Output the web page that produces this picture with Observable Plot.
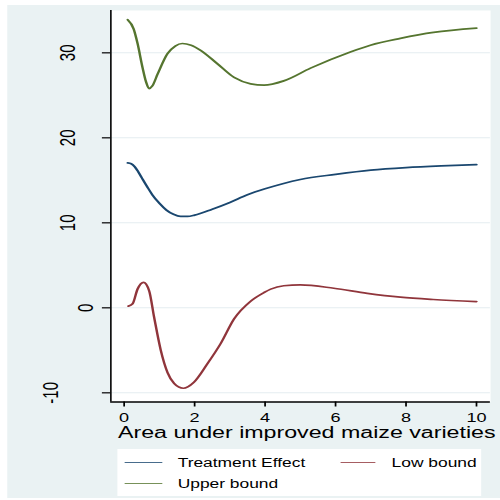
<!DOCTYPE html>
<html><head><meta charset="utf-8">
<script src="https://cdn.jsdelivr.net/npm/d3@7"></script>
<script src="https://cdn.jsdelivr.net/npm/@observablehq/plot@0.6"></script>
<style>
html,body{margin:0;padding:0;background:#fff;}
#wrap{position:absolute;left:0;top:0;width:345px;height:500px;transform:scaleX(1.4493);transform-origin:0 0;font-family:"Liberation Sans",Arial,sans-serif;}
#bg{position:absolute;left:4.83px;top:5px;width:340.2px;height:493px;background:#eaf2f3;}
#chart{position:absolute;left:0;top:0;}
#xtitle{position:absolute;left:81.4px;top:425.5px;font-size:16px;line-height:14px;white-space:nowrap;color:#000;}
#legend{position:absolute;left:80.9px;top:449px;width:251px;height:47px;background:#fff;}
#legend .s{position:absolute;height:1.4px;}
#legend .t{position:absolute;font-size:12px;line-height:12px;white-space:nowrap;color:#000;}
</style></head>
<body>
<div id="wrap">
  <div id="bg"></div>
  <div id="chart"></div>
  <div id="xtitle"></div>
  <div id="legend"></div>
</div>
<script>
// Data
const seriesNames = ["Treatment Effect", "Low bound", "Upper bound"];
const seriesColors = ["#1a476f", "#90353b", "#55752f"];

const teX = [0.1,0.2,0.3,0.4,0.5,0.66,0.8,1.0,1.2,1.4,1.6,1.8,2.0,2.5,3.0,3.5,4.0,4.5,5.0,6.0,7.0,8.0,9.0,10.0];
const teY = [17.05,16.95,16.6,16.0,15.3,14.2,13.3,12.3,11.5,11.0,10.75,10.75,10.9,11.6,12.4,13.3,14.0,14.6,15.1,15.7,16.2,16.5,16.7,16.85];

const lbX = [0.12,0.24,0.38,0.55,0.71,0.85,1.04,1.23,1.42,1.68,1.98,2.36,2.74,3.12,3.59,3.97,4.16,4.53,5.0,5.95,6.9,7.84,8.77,10.0];
const lbY = [0.2,0.47,2.2,3.0,2.0,-1.1,-5.0,-7.6,-8.9,-9.46,-8.75,-6.6,-4.2,-1.3,0.78,1.8,2.2,2.6,2.7,2.3,1.7,1.25,0.98,0.74];

const ubX = [0.1,0.27,0.38,0.52,0.62,0.71,0.8,0.95,1.23,1.45,1.65,1.9,2.17,2.65,3.12,3.59,3.97,4.53,5.29,6.42,6.99,7.84,8.78,10.0];
const ubY = [33.9,32.8,31.1,28.3,26.6,25.8,26.1,27.5,29.9,30.8,31.1,30.9,30.3,28.7,27.1,26.35,26.2,26.7,28.2,30.1,30.9,31.7,32.4,32.9];

const xTicks = [0,2,4,6,8,10];
const yTicks = [-10,0,10,20,30];
const xDomain = [-0.377, 10.40];
const yDomain = [-11.08, 34.98];
const xTitle = "Area under improved maize varieties";

const toRows = (xs, ys) => xs.map((x, i) => ({x, y: ys[i]}));
const te = toRows(teX, teY), lb = toRows(lbX, lbY), ub = toRows(ubX, ubY);

const yLab = {anchor: "left", tickSize: 0, tickPadding: 0, tickRotate: -90, fontSize: 15, tickFormat: d => String(d), label: null, fill: "#000"};

const chart = Plot.plot({
  width: 345, height: 500,
  marginLeft: 76, marginRight: 7, marginTop: 10, marginBottom: 98.5,
  x: {domain: xDomain, label: null},
  y: {domain: yDomain, label: null},
  style: {background: "transparent", fontFamily: "'Liberation Sans', Arial, sans-serif", overflow: "visible"},
  marks: [
    Plot.frame({fill: "white", stroke: "none"}),
    Plot.gridY(yTicks, {stroke: "#e4edf0", strokeOpacity: 1, strokeWidth: 1}),
    Plot.line(te, {x: "x", y: "y", stroke: seriesColors[0], strokeWidth: 1.7, curve: "monotone-x"}),
    Plot.line(lb, {x: "x", y: "y", stroke: seriesColors[1], strokeWidth: 1.7, curve: "monotone-x"}),
    Plot.line(ub, {x: "x", y: "y", stroke: seriesColors[2], strokeWidth: 1.7, curve: "monotone-x"}),
    Plot.ruleX([xDomain[0]], {stroke: "#000", strokeWidth: 1.1}),
    Plot.ruleY([yDomain[0]], {stroke: "#000", strokeWidth: 1.4}),
    Plot.axisY(yTicks, {anchor: "left", tickSize: 5.7, fill: "none", label: null, stroke: "#000", strokeWidth: 1.2}),
    Plot.axisY([10,20,30], {...yLab, dx: -25}),
    Plot.axisY([0], {...yLab, dx: -12.5}),
    Plot.axisY([-10], {...yLab, dx: -36.7}),
    Plot.axisX(xTicks, {anchor: "bottom", tickSize: 5, tickPadding: 6, fontSize: 12.5, label: null, tickFormat: d => String(d), stroke: "#000", strokeWidth: 1.2, fill: "#000"})
  ]
});
document.getElementById("chart").appendChild(chart);
document.getElementById("xtitle").textContent = xTitle;

// Legend
const leg = document.getElementById("legend");
const items = [
  {name: seriesNames[0], color: seriesColors[0], sx: 5.3, sw: 25.4, sy: 13.3, tx: 41.7, ty: 8.1},
  {name: seriesNames[1], color: seriesColors[1], sx: 153.7, sw: 24.1, sy: 13.3, tx: 189.3, ty: 8.1},
  {name: seriesNames[2], color: seriesColors[2], sx: 5.3, sw: 25.4, sy: 34.3, tx: 41.7, ty: 29.1}
];
for (const it of items) {
  const s = document.createElement("div");
  s.className = "s";
  s.style.left = it.sx + "px"; s.style.width = it.sw + "px"; s.style.top = (it.sy - 0.7) + "px";
  s.style.background = it.color; s.style.opacity = 0.8;
  leg.appendChild(s);
  const t = document.createElement("div");
  t.className = "t";
  t.style.left = it.tx + "px"; t.style.top = it.ty + "px";
  t.textContent = it.name;
  leg.appendChild(t);
}
</script>
</body></html>
